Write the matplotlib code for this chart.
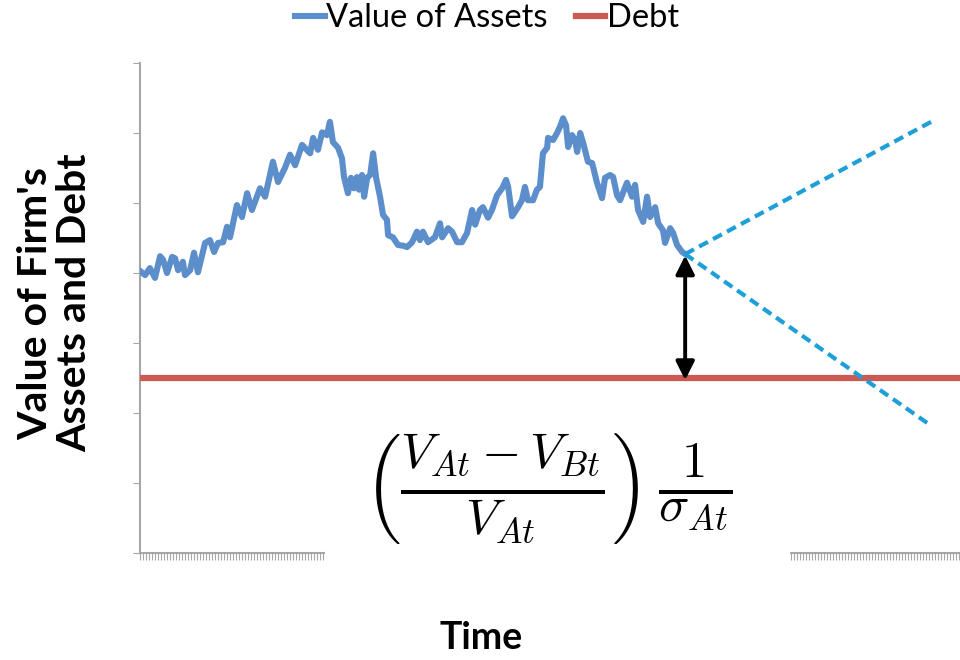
import matplotlib
matplotlib.use("Agg")
import matplotlib.pyplot as plt
from matplotlib.patches import Rectangle
from matplotlib.ticker import MultipleLocator

# time periods and value of firm's assets
TIME = [0, 1.7, 3.3, 5.0, 6.7, 7.7, 9.0, 10.7, 11.7, 12.7, 14.3, 15.0, 16.7, 18.0, 19.3,
        21.7, 23.3, 24.7, 26.0, 27.7, 29.0, 30.0, 31.0, 32.3, 34.0, 35.7, 37.3, 40.0, 41.7,
        44.3, 46.0, 48.3, 50.0, 51.7, 54.0, 56.7, 57.7, 59.3, 60.7, 62.3, 63.3, 64.3, 66.0,
        67.3, 68.0, 69.3, 70.3, 71.3, 72.3, 73.0, 74.0, 74.7, 75.7, 76.7, 77.7, 78.7, 80.0,
        81.0, 82.3, 82.7, 84.3, 86.0, 87.7, 89.0, 90.7, 92.3, 93.3, 94.3, 96.0, 98.3, 100.0,
        100.7, 102.7, 104.0, 105.7, 107.3, 109.0, 110.7, 111.7, 113.3, 114.3, 116.0, 117.3,
        119.0, 120.7, 122.0, 122.7, 124.0, 126.0, 127.3, 128.3, 129.3, 131.0, 132.3, 133.3,
        134.3, 135.7, 136.0, 137.7, 139.0, 140.0, 141.0, 142.0, 142.7, 144.0, 145.0, 145.7,
        146.7, 147.7, 149.3, 150.7, 152.3, 154.0, 155.0, 156.7, 157.7, 159.0, 160.0, 162.3,
        164.0, 165.0, 166.0, 167.7, 169.0, 170.0, 171.7, 172.7, 174.3, 175.0, 176.7, 177.7,
        179.0, 180.7, 181.7]
ASSETS = [4.03, 3.97, 4.07, 3.93, 4.24, 4.19, 4.00, 4.23, 4.21, 4.04, 4.16, 3.97, 4.04, 4.29, 4.01,
          4.43, 4.47, 4.30, 4.43, 4.44, 4.66, 4.51, 4.71, 4.97, 4.80, 5.14, 4.90, 5.21, 5.09,
          5.59, 5.30, 5.50, 5.69, 5.54, 5.83, 5.71, 5.93, 5.76, 6.01, 5.97, 6.16, 5.87, 5.79,
          5.64, 5.37, 5.14, 5.36, 5.21, 5.37, 5.19, 5.40, 5.09, 5.36, 5.40, 5.71, 5.36, 5.09,
          4.83, 4.76, 4.54, 4.51, 4.40, 4.39, 4.37, 4.44, 4.59, 4.47, 4.59, 4.44, 4.51, 4.71,
          4.51, 4.64, 4.59, 4.44, 4.44, 4.57, 4.90, 4.69, 4.90, 4.94, 4.79, 4.90,
          5.11, 5.21, 5.33, 5.23, 4.81, 4.94, 5.04, 5.23, 5.04, 5.04, 5.19, 5.23,
          5.71, 5.79, 5.93, 5.90, 6.00, 6.09, 6.21, 6.11, 5.80, 5.97, 5.90, 5.73,
          6.00, 5.86, 5.59, 5.57, 5.29, 5.07, 5.36, 5.40, 5.37, 5.11, 5.04, 5.29,
          5.09, 5.26, 4.90, 4.73, 5.09, 4.80, 4.94, 4.71, 4.61, 4.43, 4.64, 4.57,
          4.40, 4.30, 4.27]
DEBT = 2.5
T_END = 273.3

# projected paths from the last observed value
UP_PATH_T = [181.7, 265.0]
UP_PATH_V = [4.27, 6.19]
DOWN_PATH_T = [181.7, 263.3]
DOWN_PATH_V = [4.27, 1.83]

BLUE = "#5B8ECB"
RED = "#CB5A52"
PROJ = "#1E9FD8"
GRAY = "#A6A6A6"

plt.rcParams["mathtext.fontset"] = "cm"

fig = plt.figure(figsize=(9.6, 6.6), dpi=100)
ax = fig.add_axes([140 / 960, 1 - 553 / 660, 1 - 140 / 960, (553 - 63) / 660])

ax.plot(TIME, ASSETS, color=BLUE, linewidth=4.4, solid_joinstyle="round",
        label="Value of Assets", zorder=3)
ax.plot([0, T_END], [DEBT, DEBT], color=RED, linewidth=4.5, label="Debt", zorder=3)
ax.plot(UP_PATH_T, UP_PATH_V, color=PROJ, linewidth=3, linestyle=(0, (2.4, 1.4)), zorder=3)
ax.plot(DOWN_PATH_T, DOWN_PATH_V, color=PROJ, linewidth=3, linestyle=(0, (2.4, 1.4)), zorder=3)

# distance to default arrow
ax.annotate("", xy=(TIME[-1], DEBT - 0.03), xytext=(TIME[-1], ASSETS[-1] - 0.02),
            arrowprops=dict(arrowstyle="<|-|>", color="black", lw=2.8,
                            mutation_scale=28, shrinkA=0, shrinkB=0), zorder=4)

ax.set_xlim(0, T_END)
ax.set_ylim(0, 7)
ax.yaxis.set_major_locator(MultipleLocator(1))
ax.xaxis.set_major_locator(MultipleLocator(1))
ax.tick_params(axis="y", direction="out", length=5, color=GRAY, labelleft=False)
ax.tick_params(axis="x", direction="out", length=5, width=0.8, color=GRAY, labelbottom=False)
for side in ["top", "right"]:
    ax.spines[side].set_visible(False)
for side in ["left", "bottom"]:
    ax.spines[side].set_color(GRAY)
    ax.spines[side].set_linewidth(1.5)

# white panel behind the formula, hiding part of the time axis
ax.add_patch(Rectangle((61.7, -0.2), 155.0, 2.4, facecolor="white", edgecolor="none",
                       zorder=9, clip_on=False))
ax.text(136.0, 0.92,
        r"$\left(\frac{V_{At}-V_{Bt}}{V_{At}}\right)\,\frac{1}{\sigma_{At}}$",
        fontsize=52, ha="center", va="center", zorder=10, clip_on=False)

fig.text(55 / 960, 1 - 303 / 660, "Value of Firm's\nAssets and Debt", rotation=90,
         ha="center", va="center", fontsize=29.5, fontweight="bold", family="Lato",
         linespacing=1.08)
fig.text(481 / 960, 1 - 638 / 660, "Time", ha="center", va="center",
         fontsize=27, fontweight="bold", family="Lato")

fig.legend(loc="center", bbox_to_anchor=(487 / 960, 1 - 18 / 660), ncol=2,
           frameon=False, prop=dict(family="Lato", size=23.5), handlelength=0.9,
           handletextpad=0.05, columnspacing=0.85, borderaxespad=0)

fig.savefig("out.png", dpi=100)
